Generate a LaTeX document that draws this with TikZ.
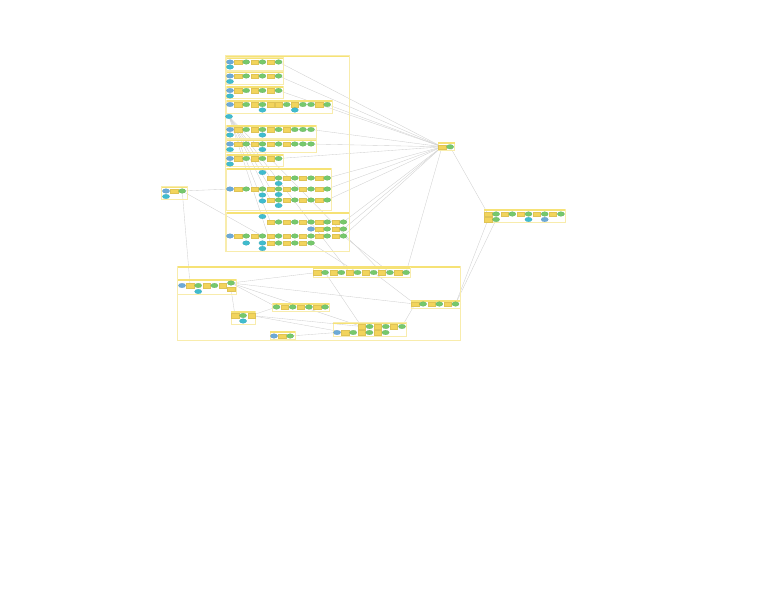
\documentclass[tikz,border=0pt]{standalone}
\usepackage{tikz}
\usetikzlibrary{
  positioning,
  shapes.geometric,
  backgrounds
}
\definecolor{inblue}{RGB}{108,170,215}
\definecolor{outcyan}{RGB}{64,188,206}
\definecolor{resgreen}{RGB}{118,200,108}
\definecolor{toolyel}{RGB}{242,212,92}
\definecolor{hdryel}{RGB}{246,226,118}
\definecolor{grpline}{RGB}{248,236,172}
\definecolor{edgegray}{RGB}{208,208,208}
% one row of model elements, 8.1 apart
\newcommand{\mrow}[4]{%
  \foreach \s [count=\i] in {#4}
    \node[\s] (#1\i) at ({#2+8.1*(\i-1)},#3) {};%
}
% one group frame with its header band
\newcommand{\mgrp}[4]{%
  \draw[grp] (#1,#2) rectangle (#3,#4);
  \fill[hdr] (#1,#2) rectangle (#3,{#2+1.9});%
}

\begin{document}
\begin{tikzpicture}[
  x=1pt, y=-1pt,
  inp/.style={ellipse, draw=inblue!85!black, fill=inblue, line width=0.15pt, inner sep=0pt, minimum width=7.2pt, minimum height=4.6pt},
  outp/.style={inp, draw=outcyan!85!black, fill=outcyan},
  res/.style={inp, draw=resgreen!85!black, fill=resgreen},
  tool/.style={rectangle, draw=toolyel!92!black, fill=toolyel, line width=0.15pt, inner sep=0pt, minimum width=7.2pt, minimum height=4.2pt},
  grp/.style={draw=grpline, line width=0.5pt},
  hdr/.style={fill=hdryel},
  ln/.style={draw=edgegray, line width=0.35pt}
]
  \useasboundingbox (0,0) rectangle (776,600);

  % top block
  \mgrp{225.5}{55.5}{349}{251}
  \mgrp{226.5}{57.5}{283}{70}
  \mrow{s1-}{230}{62}{inp,tool,res,tool,res,tool,res}
  \node[outp] (s1o) at (230,67) {};
  \mgrp{226.5}{71.5}{283}{84}
  \mrow{s2-}{230}{76}{inp,tool,res,tool,res,tool,res}
  \node[outp] (s2o) at (230,81.5) {};
  \mgrp{226.5}{86}{283}{98.5}
  \mrow{s3-}{230}{90.5}{inp,tool,res,tool,res,tool,res}
  \node[outp] (s3o) at (230,96) {};
  \mgrp{226.5}{100}{332}{113}
  \mrow{s4-}{230}{104.5}{inp,tool,res,tool,res,tool,tool,res,tool,res,res,tool,res}
  \node[outp] (s4o) at (262.4,110) {};
  \node[outp] (s4p) at (294.8,110) {};
  \node[outp] (o0) at (229,116.5) {};
  \mgrp{226.5}{125}{316}{138}
  \mrow{s5-}{230}{129.5}{inp,tool,res,tool,res,tool,res,tool,res,res,res}
  \node[outp] (s5o) at (230,135) {};
  \node[outp] (s5p) at (262.4,135) {};
  \mgrp{226.5}{139.5}{316}{152.5}
  \mrow{s6-}{230}{144}{inp,tool,res,tool,res,tool,res,tool,res,res,res}
  \node[outp] (s6o) at (230,149.5) {};
  \node[outp] (s6p) at (262.4,149.5) {};
  \mgrp{226.5}{154}{283}{166.5}
  \mrow{s7-}{230}{158.5}{inp,tool,res,tool,res,tool,res}
  \node[outp] (s7o) at (230,164) {};

  % split block
  \mgrp{226.5}{168}{331}{210}
  \node[outp] (k0o) at (262.4,172.5) {};
  \mrow{k0-}{230}{189}{inp,tool,res,tool,res}
  \mrow{k1-}{270.5}{178}{tool,res,tool,res,tool,res,tool,res}
  \mrow{k2-}{270.5}{189}{tool,res,tool,res,tool,res,tool,res}
  \mrow{k3-}{270.5}{200}{tool,res,tool,res,tool,res,tool,res}
  \node[outp] (k1o) at (278.6,183.5) {};
  \node[outp] (k2o) at (278.6,194.5) {};
  \node[outp] (k3o) at (278.6,205.5) {};
  \node[outp] (k0p) at (262.4,195) {};
  \node[outp] (k0q) at (262.4,201) {};

  % last block of the top
  \mgrp{226.5}{212}{349}{251}
  \node[outp] (n0o) at (262.4,216.5) {};
  \mrow{n0-}{230}{236}{inp,tool,res,tool,res,tool,res,tool,res,tool,res,tool,res,tool,res}
  \mrow{n1-}{270.5}{222}{tool,res,tool,res,tool,res,tool,res,tool,res}
  \mrow{n2-}{311}{229}{inp,tool,res,tool,res}
  \mrow{n3-}{270.5}{243}{tool,res,tool,res,tool,res}
  \node[outp] (n3o) at (246.2,243) {};
  \node[outp] (n3p) at (262.4,243) {};
  \node[outp] (n3q) at (262.4,248.5) {};

  % left, middle and right groups
  \mgrp{161.5}{186.5}{187}{199}
  \mrow{l-}{166}{191}{inp,tool,res}
  \node[outp] (lo) at (166,196.5) {};
  \mgrp{438}{142}{454.5}{150}
  \mrow{m-}{442}{146.8}{tool,res}
  \mgrp{484}{209}{565}{222.5}
  \mrow{r-}{488}{214}{tool,res,tool,res,tool,res,tool,res,tool,res}
  \mrow{r2-}{488}{219.5}{tool,res}
  \node[outp] (ro) at (528.5,219.5) {};
  \node[inp] (ri) at (544.7,219.5) {};

  % bottom block
  \mgrp{177.5}{266}{460}{340}
  \mgrp{177.5}{279}{236}{294}
  \mrow{a-}{182}{285.5}{inp,tool,res,tool,res,tool}
  \node[res] (a7) at (231,283) {};
  \node[tool] (a8) at (231,289) {};
  \node[outp] (ao) at (198.2,291.5) {};
  \mgrp{231}{311}{255}{324}
  \mrow{b-}{235}{315.5}{tool,res,tool}
  \node[outp] (bo) at (243.1,321) {};
  \mgrp{270}{331}{295}{339.5}
  \mrow{c-}{274}{336}{inp,tool,res}
  \mgrp{272.5}{303}{329}{311}
  \mrow{d-}{276.5}{307}{res,tool,res,tool,res,tool,res}
  \mgrp{313}{267}{410}{277}
  \mrow{e-}{317}{272.5}{tool,res,tool,res,tool,res,tool,res,tool,res,tool,res}
  \mgrp{411}{300}{460}{308}
  \mrow{f-}{415}{304}{tool,res,tool,res,tool,res}
  \mgrp{333}{322.5}{406}{336.5}
  \mrow{g-}{361.5}{326.5}{tool,res,tool,res,tool,res}
  \mrow{h-}{337}{332.5}{inp,tool,res,tool,res,tool,res}

  \begin{pgfonlayer}{background}
    \foreach \t in {s1-7,s2-7,s3-7,s4-13,s5-11,s6-11,s7-7,k1-8,k2-8,k3-8,n1-10,n2-5,n0-15,e-12}
      \draw[ln] (m-1) -- (\t);
    \foreach \t in {k1-1,k2-1,k3-1,n1-1,n3-1,e-5,e-9}
      \draw[ln] (o0) -- (\t);
    \draw[ln] (m-2) -- (r-1);
    \draw[ln] (r2-1) -- (f-6);
    \draw[ln] (r2-2) -- (f-6);
    \draw[ln] (l-3) -- (k0-1);
    \draw[ln] (l-3) -- (n0-5);
    \draw[ln] (l-3) -- (a-2);
    \draw[ln] (a7) -- (e-1);
    \draw[ln] (a7) -- (f-1);
    \draw[ln] (a7) -- (d-1);
    \draw[ln] (a7) -- (g-1);
    \draw[ln] (a8) -- (b-1);
    \draw[ln] (b-3) -- (d-1);
    \draw[ln] (b-3) -- (g-1);
    \draw[ln] (b-3) -- (h-2);
    \draw[ln] (c-3) -- (h-1);
    \draw[ln] (e-2) -- (g-1);
    \draw[ln] (e-8) -- (f-1);
    \draw[ln] (f-1) -- (g-6);
    \draw[ln] (n0-15) -- (e-10);
    \draw[ln] (n3-6) -- (e-6);
  \end{pgfonlayer}
\end{tikzpicture}
\end{document}
